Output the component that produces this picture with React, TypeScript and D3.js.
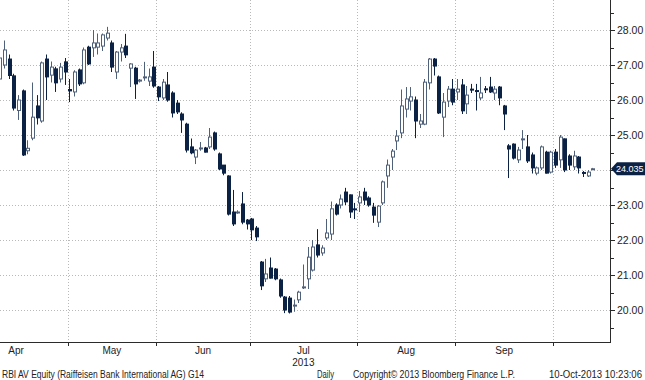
import React from "react";
import * as d3 from "d3";

// Daily OHLC, RBI AV Equity, mid-April to 10-Oct-2013 (trading-day order)
const openP = [
  26.6, 27.0, 27.17, 26.69, 25.7, 26.26, 24.55, 24.91, 25.83, 25.4,
  27.17, 26.71, 26.89, 26.6, 27.09, 26.3, 26.23, 26.86, 26.49, 27.51,
  27.49, 27.51, 27.54, 27.77, 27.63, 26.8, 27.37, 27.54, 26.91, 26.91,
  26.54, 26.66, 26.54, 26.94, 26.37, 26.06, 26.43, 26.2, 25.91, 25.6,
  25.31, 24.66, 24.37, 24.63, 24.63, 24.66, 25.06, 24.46, 24.14, 23.83,
  22.8, 22.78, 23.03, 22.57, 22.6, 22.34, 21.37, 20.89, 21.2, 21.17,
  20.86, 20.37, 20.34, 20.12, 20.29, 20.64, 20.89, 21.14, 21.86, 21.63,
  22.06, 22.17, 23.0, 23.0, 23.37, 23.29, 22.89, 23.06, 23.37, 23.2,
  22.94, 22.51, 23.06, 23.83, 24.37, 24.83, 25.06, 25.74, 25.97, 26.0,
  25.31, 25.31, 26.49, 27.17, 26.66, 25.51, 25.97, 26.31, 26.23, 26.43,
  25.89, 26.31, 26.27, 26.06, 26.32, 26.37, 26.2, 26.37, 25.83, 24.69,
  24.74, 24.29, 24.88, 24.66, 24.43, 23.91, 24.06, 24.51, 23.94, 24.51,
  24.29, 24.89, 24.4, 24.09, 24.37, 23.93, 23.83, 24.03,
];
const highP = [
  27.25, 27.7, 27.3, 26.75, 26.14, 26.3, 24.85, 26.5, 26.14, 27.1,
  27.3, 27.1, 26.95, 27.06, 27.2, 26.6, 26.85, 26.9, 27.5, 27.55,
  28.0, 27.9, 27.9, 28.09, 27.7, 27.4, 27.6, 27.89, 27.05, 26.95,
  26.6, 27.09, 26.9, 27.4, 26.4, 26.6, 26.8, 26.25, 26.0, 25.65,
  25.35, 24.9, 24.6, 24.8, 24.66, 25.2, 25.1, 24.5, 24.14, 23.85,
  23.43, 22.85, 23.37, 22.6, 22.63, 22.4, 21.4, 21.46, 21.5, 21.2,
  20.9, 20.4, 20.4, 20.3, 20.55, 21.3, 21.8, 22.0, 22.31, 21.85,
  22.6, 23.1, 23.05, 23.3, 23.49, 23.3, 23.06, 23.4, 23.49, 23.25,
  23.06, 23.0, 23.7, 24.3, 24.6, 25.14, 26.3, 26.37, 26.37, 26.1,
  25.6, 26.6, 27.2, 27.2, 26.7, 26.2, 26.4, 26.6, 26.6, 26.6,
  26.4, 26.46, 26.46, 26.66, 26.4, 26.66, 26.4, 26.4, 25.86, 24.74,
  24.76, 24.66, 25.14, 25.0, 24.5, 24.1, 24.7, 24.55, 24.55, 24.6,
  25.0, 24.9, 24.45, 24.55, 24.4, 23.97, 24.0, 24.06,
];
const lowP = [
  26.5, 26.9, 26.6, 25.7, 25.43, 24.4, 24.45, 24.85, 25.3, 25.35,
  26.0, 26.5, 26.23, 26.5, 26.43, 25.94, 26.1, 26.4, 26.45, 27.0,
  27.23, 27.3, 27.4, 27.7, 26.8, 26.6, 27.1, 27.2, 26.37, 26.03,
  26.5, 26.55, 26.4, 26.35, 25.97, 26.0, 25.95, 25.5, 25.6, 25.06,
  24.5, 24.45, 24.17, 24.55, 24.5, 24.6, 24.55, 24.0, 23.85, 22.7,
  22.4, 22.75, 22.45, 22.3, 22.0, 21.97, 20.57, 20.8, 20.9, 20.85,
  20.35, 19.91, 19.9, 19.95, 20.2, 20.6, 20.6, 21.1, 21.5, 21.55,
  22.0, 22.0, 22.7, 22.9, 23.0, 22.63, 22.6, 22.8, 23.0, 22.95,
  22.49, 22.37, 23.0, 23.49, 24.0, 24.57, 24.91, 25.5, 25.7, 24.91,
  25.2, 25.28, 26.3, 26.7, 25.6, 24.94, 25.8, 25.85, 26.0, 25.6,
  25.6, 26.2, 25.7, 26.0, 26.2, 26.2, 26.0, 25.85, 25.14, 23.77,
  24.3, 24.2, 24.6, 24.2, 23.9, 23.85, 24.0, 23.9, 23.9, 24.06,
  24.06, 23.94, 24.0, 24.0, 23.9, 23.8, 23.8, 24.0,
];
const closeP = [
  27.2, 27.43, 26.7, 25.77, 26.0, 24.43, 24.62, 25.51, 25.49, 27.06,
  26.66, 26.94, 26.49, 26.94, 26.8, 26.26, 26.8, 26.46, 27.43, 27.03,
  27.63, 27.63, 27.86, 27.91, 26.94, 27.37, 27.49, 27.29, 27.03, 26.46,
  26.57, 26.66, 26.66, 26.4, 26.09, 26.51, 26.0, 25.63, 25.66, 25.43,
  24.57, 24.49, 24.57, 24.63, 24.51, 24.94, 24.6, 24.03, 23.91, 22.74,
  22.46, 22.8, 22.51, 22.46, 22.29, 22.09, 20.69, 21.03, 20.91, 20.89,
  20.4, 20.0, 19.94, 20.14, 20.51, 20.66, 21.51, 21.8, 21.57, 21.77,
  22.2, 22.89, 22.74, 23.17, 23.09, 22.8, 22.87, 23.23, 23.14, 23.0,
  22.71, 22.97, 23.66, 24.14, 24.54, 24.97, 25.83, 26.03, 26.09, 25.4,
  25.4, 26.51, 27.17, 26.97, 25.63, 25.94, 26.31, 25.94, 26.31, 25.69,
  26.14, 26.29, 26.26, 26.2, 26.31, 26.23, 26.31, 26.06, 25.6, 24.6,
  24.34, 24.57, 24.89, 24.26, 24.06, 24.06, 24.66, 23.91, 24.51, 24.14,
  24.94, 24.0, 24.14, 24.4, 24.06, 23.91, 23.94, 24.035,
];

const monthLabels = ["Apr", "May", "Jun", "Jul", "Aug", "Sep"];
// trading-day index at which each month begins (last entry = October)
const monthStarts = [-7, 15, 34, 54, 77, 98, 119];
const yearLabel = { text: "2013", month: "Jul" };
const yTicks = [20, 21, 22, 23, 24, 25, 26, 27, 28];
const yMinorTicks = [19.5, 20.5, 21.5, 22.5, 23.5, 24.5, 25.5, 26.5, 27.5, 28.5];
const lastPrice = 24.035;
const footerLeft = "RBI AV Equity (Raiffeisen Bank International AG) G14";
const footerMid = "Daily";
const footerCopy = "Copyright\u00A9 2013 Bloomberg Finance L.P.";
const footerRight = "10-Oct-2013 10:23:06";

const DOWN = "#0c2245";
const UP_STROKE = "#4f607a";
const GRID = "#b9b9b9";
const AXIS = "#2b2b2b";
const FONT = "'Liberation Sans', Arial, sans-serif";

export default function App() {
  const W = 645;
  const H = 380;
  const plotRight = 610;
  const plotBottom = 342;
  const n = closeP.length;

  const x = d3.scaleLinear().domain([0, 127]).range([-0.2, 592.9]);
  const y = d3.scaleLinear().domain([20, 28]).range([310, 30]);

  const candles = d3.range(n).map((i) => ({
    i,
    o: openP[i],
    h: highP[i],
    l: lowP[i],
    c: closeP[i],
  }));

  const gridXs = monthStarts.slice(1).map((m) => x(m - 0.5));
  const labelXs = monthLabels.map((_, k) => (x(monthStarts[k] - 0.5) + x(monthStarts[k + 1] - 0.5)) / 2);
  const yearX = labelXs[monthLabels.indexOf(yearLabel.month)];

  const lpY = y(lastPrice);

  return (
    <svg
      width={W}
      height={H}
      style={{ position: "absolute", left: 0, top: 0, background: "#fff" }}
      fontFamily={FONT}
    >
      <rect x={0} y={0} width={W} height={H} fill="#fff" />
      {/* horizontal grid */}
      {yTicks.map((t) => (
        <line
          key={"hg" + t}
          x1={0}
          x2={plotRight}
          y1={Math.round(y(t)) + 0.5}
          y2={Math.round(y(t)) + 0.5}
          stroke={GRID}
          strokeDasharray="1,2"
        />
      ))}
      {/* vertical grid */}
      {gridXs.map((gx, k) => (
        <line
          key={"vg" + k}
          x1={Math.round(gx) + 0.5}
          x2={Math.round(gx) + 0.5}
          y1={0}
          y2={plotBottom}
          stroke={GRID}
          strokeDasharray="1,2"
        />
      ))}
      {/* candles */}
      {candles.map((d) => {
        const N = Math.floor(x(d.i));
        const up = d.c >= d.o;
        const yTop = y(Math.max(d.o, d.c));
        const yBot = y(Math.min(d.o, d.c));
        const hgt = Math.max(1, yBot - yTop);
        return (
          <g key={"c" + d.i}>
            <line
              x1={N + 0.5}
              x2={N + 0.5}
              y1={y(d.h)}
              y2={y(d.l)}
              stroke={up ? UP_STROKE : DOWN}
              strokeWidth={1}
            />
            {up ? (
              <rect
                x={N - 0.5}
                y={yTop}
                width={3}
                height={hgt}
                fill="#fff"
                stroke={UP_STROKE}
                strokeWidth={1}
              />
            ) : (
              <rect x={N - 1} y={yTop - 0.5} width={4} height={hgt + 1} fill={DOWN} />
            )}
          </g>
        );
      })}
      {/* bottom border */}
      <line x1={0} x2={plotRight} y1={plotBottom + 0.5} y2={plotBottom + 0.5} stroke={AXIS} />
      {gridXs.map((gx, k) => (
        <line
          key={"bt" + k}
          x1={Math.round(gx) + 0.5}
          x2={Math.round(gx) + 0.5}
          y1={plotBottom}
          y2={plotBottom + 4}
          stroke={AXIS}
        />
      ))}
      {/* right axis */}
      <line x1={plotRight + 0.5} x2={plotRight + 0.5} y1={0} y2={plotBottom + 1} stroke={AXIS} />
      {yMinorTicks.map((t) => (
        <line
          key={"mt" + t}
          x1={plotRight}
          x2={plotRight + 4}
          y1={Math.round(y(t)) + 0.5}
          y2={Math.round(y(t)) + 0.5}
          stroke={AXIS}
        />
      ))}
      {yTicks.map((t) => (
        <g key={"yt" + t}>
          <line
            x1={plotRight}
            x2={plotRight + 5}
            y1={Math.round(y(t)) + 0.5}
            y2={Math.round(y(t)) + 0.5}
            stroke={AXIS}
          />
          {Math.abs(t - lastPrice) > 0.3 && (
            <text x={plotRight + 7} y={y(t) + 4} fontSize={10.5} fill="#222">
              {d3.format(".2f")(t)}
            </text>
          )}
        </g>
      ))}
      {/* last price tag */}
      <path
        d={`M${plotRight + 1},${lpY} L${plotRight + 7},${lpY - 6.5} L${W},${lpY - 6.5} L${W},${lpY + 6.5} L${plotRight + 7},${lpY + 6.5} Z`}
        fill={DOWN}
      />
      <text x={plotRight + 6} y={lpY + 3.5} fontSize={9} fill="#fff">
        {lastPrice.toFixed(3)}
      </text>
      {/* month labels */}
      {monthLabels.map((m, k) => (
        <text key={"ml" + m} x={labelXs[k]} y={354} fontSize={10} textAnchor="middle" fill="#222">
          {m}
        </text>
      ))}
      <text x={yearX} y={366} fontSize={10} textAnchor="middle" fill="#222">
        {yearLabel.text}
      </text>
      {/* footer */}
      <text x={2} y={378} fontSize={10} fill="#222" textLength={202} lengthAdjust="spacingAndGlyphs">
        {footerLeft}
      </text>
      <text x={317} y={378} fontSize={10} fill="#222" textLength={17} lengthAdjust="spacingAndGlyphs">
        {footerMid}
      </text>
      <text x={353} y={378} fontSize={10} fill="#222" textLength={162} lengthAdjust="spacingAndGlyphs">
        {footerCopy}
      </text>
      <text x={549} y={378} fontSize={10} fill="#222" textLength={93} lengthAdjust="spacingAndGlyphs">
        {footerRight}
      </text>
    </svg>
  );
}
